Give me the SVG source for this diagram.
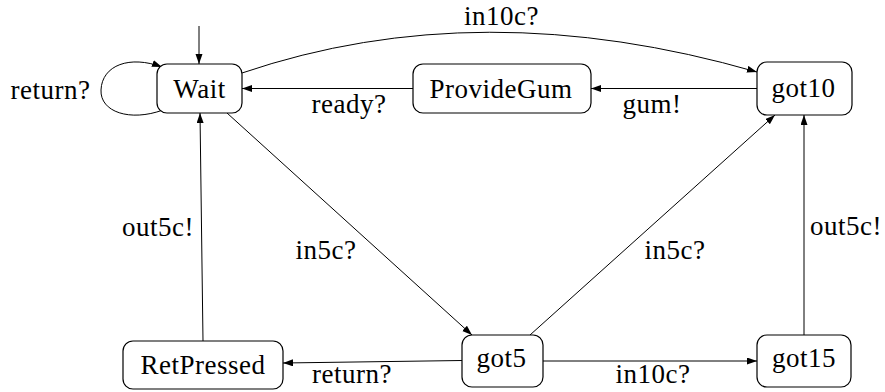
<svg xmlns="http://www.w3.org/2000/svg" width="885" height="392" viewBox="0 0 885 392">
<defs>
<marker id="arr" markerUnits="userSpaceOnUse" markerWidth="11" markerHeight="8" refX="10" refY="3.5" orient="auto">
<path d="M0,0 L10,3.5 L0,7 z" fill="#000"/>
</marker>
<style>
.node rect { fill: #fff; stroke: #000; stroke-width: 1.2; }
text { font-family: "Liberation Serif", "DejaVu Serif", serif; font-size: 27px; letter-spacing: 0.5px; fill: #000; text-anchor: middle; }
#edges path { fill: none; stroke: #000; stroke-width: 1; marker-end: url(#arr); }
</style>
</defs>
<rect width="885" height="392" fill="#fff"/>
<g id="edges">
<path d="M199,26 L199,64"/>
<path d="M163,110 C130,122 100,112 101,90 C102,65 130,55 162,67"/>
<path d="M242,73 Q480,-8 757,72"/>
<path d="M757,88.5 L591,88.5"/>
<path d="M413,88.5 L242,88.5"/>
<path d="M227,113 L472,335"/>
<path d="M530,335 L775,115"/>
<path d="M804,335 L804,115"/>
<path d="M203,341 L200,113"/>
<path d="M462,360.5 L283,363"/>
<path d="M543,361 L757,361"/>
</g>
<g id="edge-labels">
<text x="50.5" y="99">return?</text>
<text x="501.5" y="25">in10c?</text>
<text x="349" y="113">ready?</text>
<text x="652" y="113">gum!</text>
<text x="158" y="236">out5c!</text>
<text x="326" y="259">in5c?</text>
<text x="675" y="259">in5c?</text>
<text x="846" y="235">out5c!</text>
<text x="352" y="383">return?</text>
<text x="653" y="383">in10c?</text>
</g>
<g id="Wait" class="node"><rect x="157" y="64" width="85" height="49" rx="10"/><text x="199.5" y="98">Wait</text></g>
<g id="ProvideGum" class="node"><rect x="413" y="64" width="178" height="49" rx="10"/><text x="501" y="98">ProvideGum</text></g>
<g id="got10" class="node"><rect x="757" y="62" width="95" height="53" rx="10"/><text x="803.5" y="97">got10</text></g>
<g id="RetPressed" class="node"><rect x="123" y="341" width="160" height="48" rx="10"/><text x="203" y="374">RetPressed</text></g>
<g id="got5" class="node"><rect x="462" y="335" width="81" height="52" rx="10"/><text x="501.5" y="367">got5</text></g>
<g id="got15" class="node"><rect x="757" y="335" width="94" height="52" rx="10"/><text x="804" y="367">got15</text></g>
</svg>
